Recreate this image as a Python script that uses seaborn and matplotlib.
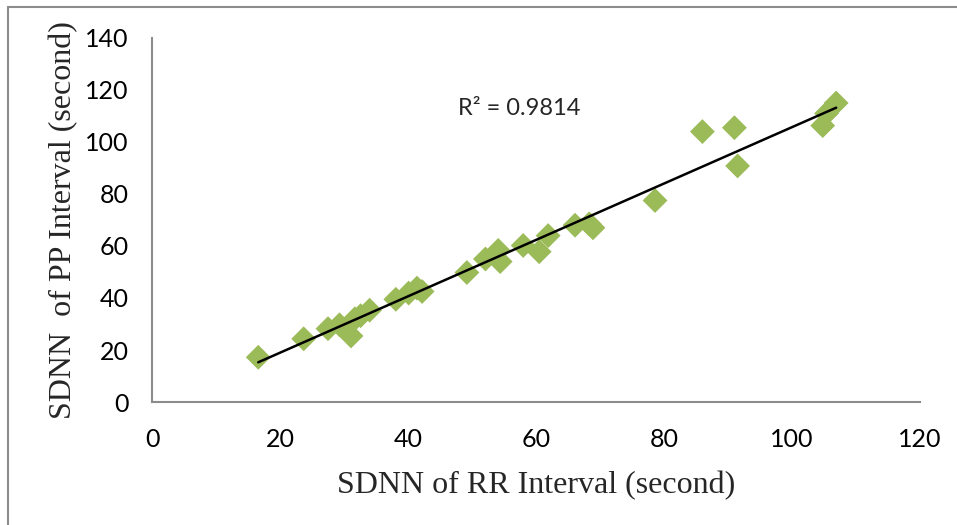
import numpy as np
import pandas as pd
import matplotlib
matplotlib.use("Agg")
import matplotlib.pyplot as plt
from matplotlib.lines import Line2D
import seaborn as sns

# SDNN values (seconds)
rr_sdnn = [16.6, 23.7, 27.5, 29.3, 31.1, 31.7, 32.6, 34.0, 38.1, 40.1, 41.4,
           42.2, 49.2, 52.1, 54.1, 54.4, 58.0, 60.5, 61.9, 66.1, 68.3, 68.9,
           78.6, 86.0, 91.0, 91.5, 104.8, 105.4, 106.9]
pp_sdnn = [17.2, 24.3, 28.2, 29.7, 25.4, 32.0, 33.2, 35.3, 39.5, 41.9, 43.8,
           42.5, 49.8, 55.0, 58.3, 54.0, 60.2, 57.8, 64.0, 68.0, 68.5, 67.0,
           77.5, 104.0, 105.5, 90.8, 106.3, 111.0, 115.0]
x_ticks = [0, 20, 40, 60, 80, 100, 120]
y_ticks = [0, 20, 40, 60, 80, 100, 120, 140]
r2_label = "R² = 0.9814"

df = pd.DataFrame({"rr": rr_sdnn, "pp": pp_sdnn})

sns.set_theme(style="white")
plt.rcParams["font.family"] = ["Lato", "DejaVu Sans"]

fig = plt.figure(figsize=(9.57, 5.25), dpi=100)
ax = fig.add_axes([152 / 957, 1 - 402 / 525, (920 - 152) / 957, (402 - 38) / 525])

sns.scatterplot(data=df, x="rr", y="pp", marker="D", s=160, color="#9BBB59",
                edgecolor="none", linewidth=0, ax=ax, zorder=2)

# linear trend line over the observed range
slope, intercept = np.polyfit(df["rr"], df["pp"], 1)
xs = np.array([df["rr"].min(), df["rr"].max()])
ax.plot(xs, slope * xs + intercept, color="black", lw=1.8, zorder=3)

ax.text(47.8, 113, r2_label, fontsize=17, ha="left", va="center",
        family=["Lato", "DejaVu Sans"])

ax.set_xlim(0, 120)
ax.set_ylim(0, 140)
ax.set_xticks(x_ticks)
ax.set_yticks(y_ticks)
ax.tick_params(axis="both", length=0, labelsize=18, colors="black")
ax.tick_params(axis="x", pad=19)
ax.tick_params(axis="y", pad=17)

serif = ["Liberation Serif", "DejaVu Serif"]
ax.set_xlabel("SDNN of RR Interval (second)", fontsize=23, family=serif,
              labelpad=14)
ax.set_ylabel("SDNN  of PP Interval (second)", fontsize=23, family=serif,
              labelpad=5)

for side in ("top", "right"):
    ax.spines[side].set_visible(False)
for side in ("left", "bottom"):
    ax.spines[side].set_color("#8c8c8c")
    ax.spines[side].set_linewidth(1.5)

# frame edges around the chart area
fig.add_artist(Line2D([8 / 957, 8 / 957], [0, 1 - 7 / 525], color="#8c8c8c",
                      lw=1.5, transform=fig.transFigure))
fig.add_artist(Line2D([8 / 957, 1], [1 - 7 / 525, 1 - 7 / 525], color="#8c8c8c",
                      lw=1.5, transform=fig.transFigure))

fig.savefig("out.png", dpi=100)
